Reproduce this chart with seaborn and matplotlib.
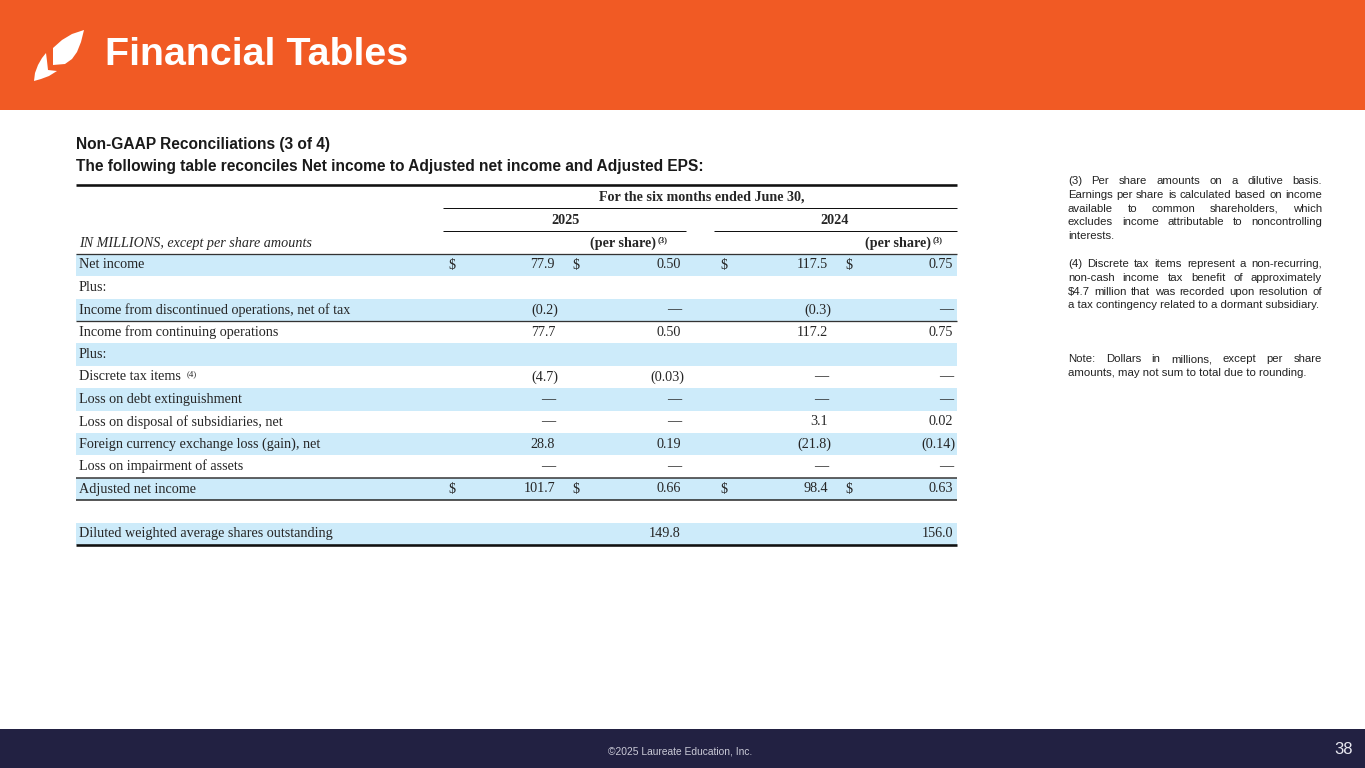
import numpy as np
import matplotlib
matplotlib.use("Agg")
import matplotlib.pyplot as plt
from matplotlib.patches import Polygon, Rectangle
import seaborn as sns

# ---------------- data ----------------
row_labels = [
    "Net income",
    "Plus:",
    "Income from discontinued operations, net of tax",
    "Income from continuing operations",
    "Plus:",
    "Discrete tax items",
    "Loss on debt extinguishment",
    "Loss on disposal of subsidiaries, net",
    "Foreign currency exchange loss (gain), net",
    "Loss on impairment of assets",
    "Adjusted net income",
    "",
    "Diluted weighted average shares outstanding",
]
nan = np.nan
# nan = blank cell, 0 = dash
amt_2025 = [77.9, nan, -0.2, 77.7, nan, -4.7, 0, 0, 28.8, 0, 101.7, nan, nan]
per_2025 = [0.50, nan, 0, 0.50, nan, -0.03, 0, 0, 0.19, 0, 0.66, nan, 149.8]
amt_2024 = [117.5, nan, -0.3, 117.2, nan, 0, 0, 3.1, -21.8, 0, 98.4, nan, nan]
per_2024 = [0.75, nan, 0, 0.75, nan, 0, 0, 0.02, -0.14, 0, 0.63, nan, 156.0]
per_share_decimals = [2, 2, 2, 2, 2, 2, 2, 2, 2, 2, 2, 2, 1]
dollar_rows = [0, 10]
footnote_rows = {5: "(4)"}
years = ["2025", "2024"]
period_header = "For the six months ended June 30,"
units_header = "IN MILLIONS, except per share amounts"
per_share_header = "(per share)"

title = "Financial Tables"
subtitle1 = "Non-GAAP Reconciliations (3 of 4)"
subtitle2 = "The following table reconciles Net income to Adjusted net income and Adjusted EPS:"
notes = [
    ["(3) Per share amounts on a dilutive basis.",
     "Earnings per share is calculated based on income",
     "available to common shareholders, which",
     "excludes income attributable to noncontrolling",
     "interests."],
    ["(4) Discrete tax items represent a non-recurring,",
     "non-cash income tax benefit of approximately",
     "$4.7 million that was recorded upon resolution of",
     "a tax contingency related to a dormant subsidiary."],
    ["Note:   Dollars in millions, except per share",
     "amounts, may not sum to total due to rounding."],
]
footer_text = "\u00a92025 Laureate Education, Inc."
page_number = "38"

# ---------------- style ----------------
sns.set_theme(style="white")
plt.rcParams["font.family"] = ["Liberation Sans", "DejaVu Sans"]

ORANGE = "#F15A24"
NAVY = "#222142"
STRIPE = "#CDEBFA"
SERIF = ["Liberation Serif", "DejaVu Serif"]
SANS = ["Liberation Sans", "DejaVu Sans"]

fig = plt.figure(figsize=(13.65, 7.68), dpi=100)
ax = fig.add_axes([0, 0, 1, 1])
ax.set_xlim(0, 1365)
ax.set_ylim(768, 0)
ax.axis("off")

def px(w):
    return w * 0.72

# header band
ax.add_patch(Rectangle((0, 0), 1365, 110, color=ORANGE, lw=0))
# logo
ax.add_patch(Polygon([(53, 48), (62, 40), (72, 34), (84, 30), (81, 42), (77, 52),
                      (72, 59), (65, 64), (53, 65)],
                     closed=True, color="white", lw=0))
ax.add_patch(Polygon([(34, 81), (35, 73), (38, 65), (42, 58), (46, 53), (47, 61),
                      (48, 70), (57, 71), (49, 76), (41, 79)],
                     closed=True, color="white", lw=0))
ax.text(105, 55, title, color="white", fontsize=28.4, fontweight="bold",
        family=SANS, va="center", ha="left")

# footer band
ax.add_patch(Rectangle((0, 729), 1365, 39, color=NAVY, lw=0))
ax.text(752, 751, footer_text, color="#C9C9D6", fontsize=7.4, family=SANS,
        ha="right", va="center")
ax.text(1353, 750, page_number, color="#E8E8F0", fontsize=12, family=SANS,
        ha="right", va="center")

# subtitles
ax.text(76, 145, subtitle1, fontsize=11.2, fontweight="bold", family=SANS,
        color="#1a1a1a", va="center")
ax.text(76, 166, subtitle2, fontsize=11.2, fontweight="bold", family=SANS,
        color="#1a1a1a", va="center")

# ---------------- table ----------------
X0, X1 = 76, 957
row_y0 = 265.0
row_h = 22.4
ys = [row_y0 + i * row_h for i in range(len(row_labels))]
FS = 10.2

for i, y in enumerate(ys):
    if i % 2 == 0:
        ax.add_patch(Rectangle((X0, y - row_h / 2), X1 - X0, row_h,
                               color=STRIPE, lw=0, zorder=0))

# header texts
ax.text(702, 197, period_header, fontsize=FS, fontweight="bold", family=SERIF,
        ha="center", va="center")
ax.text(566, 220, years[0], fontsize=FS, fontweight="bold", family=SERIF,
        ha="center", va="center")
ax.text(835, 220, years[1], fontsize=FS, fontweight="bold", family=SERIF,
        ha="center", va="center")
ax.text(79, 243, units_header, fontsize=FS, fontstyle="italic", family=SERIF,
        ha="left", va="center")
for xr in (656, 931):
    ax.text(xr, 243, per_share_header, fontsize=FS, fontweight="bold",
            family=SERIF, ha="right", va="center")
    ax.text(xr + 2, 240, "(3)", fontsize=6.3, fontweight="bold", family=SERIF,
            ha="left", va="center")

# rules
ax.plot([X0, X1], [185, 185], color="#111111", lw=px(2.6), solid_capstyle="butt")
ax.plot([443, X1], [208, 208], color="#111111", lw=px(1.0), solid_capstyle="butt")
ax.plot([443, 686], [231, 231], color="#111111", lw=px(1.0), solid_capstyle="butt")
ax.plot([714, X1], [231, 231], color="#111111", lw=px(1.0), solid_capstyle="butt")
ax.plot([X0, X1], [253.6, 253.6], color="#333333", lw=px(1.3), solid_capstyle="butt")
ax.plot([X0, X1], [ys[2] + row_h / 2, ys[2] + row_h / 2], color="#333333",
        lw=px(1.3), solid_capstyle="butt")
ax.plot([X0, X1], [ys[10] - row_h / 2, ys[10] - row_h / 2], color="#333333",
        lw=px(1.5), solid_capstyle="butt")
ax.plot([X0, X1], [ys[10] + row_h / 2, ys[10] + row_h / 2], color="#222222",
        lw=px(1.5), solid_capstyle="butt")
ax.plot([X0, X1], [ys[12] + row_h / 2, ys[12] + row_h / 2], color="#111111",
        lw=px(2.6), solid_capstyle="butt")

# row labels
for i, (lab, y) in enumerate(zip(row_labels, ys)):
    if lab:
        t = ax.text(79, y, lab, fontsize=FS, family=SERIF, ha="left", va="center")
        if i in footnote_rows:
            fig.canvas.draw()
            bb = t.get_window_extent(fig.canvas.get_renderer())
            ax.text(bb.x1 + 6, y - 3, footnote_rows[i], fontsize=6.3,
                    family=SERIF, ha="left", va="center")

def fmt(v, dec):
    if np.isnan(v):
        return None
    if v == 0:
        return "\u2014"
    s = f"{abs(v):,.{dec}f}"
    return f"({s})" if v < 0 else s

columns = [
    (amt_2025, [1] * len(ys), 448, 555),
    (per_2025, per_share_decimals, 572, 681),
    (amt_2024, [1] * len(ys), 720, 828),
    (per_2024, per_share_decimals, 845, 953),
]
for vals, decs, xd, xr in columns:
    for i, (v, d, y) in enumerate(zip(vals, decs, ys)):
        s = fmt(v, d)
        if s is None:
            continue
        xx = xr + (3 if v < 0 else 0)
        ax.text(xx, y, s, fontsize=FS, family=SERIF, ha="right", va="center")
        if i in dollar_rows:
            ax.text(xd, y, "$", fontsize=FS, family=SERIF, ha="left", va="center")

# ---------------- notes (justified) ----------------
fig.canvas.draw()
renderer = fig.canvas.get_renderer()
NX0, NX1 = 1068, 1322
NFS = 8.2
LS = 13.8

def width_of(s):
    t = ax.text(0, 0, s, fontsize=NFS, family=SANS)
    w = t.get_window_extent(renderer).width
    t.remove()
    return w

def justify(line, y, last):
    if last:
        ax.text(NX0, y, line, fontsize=NFS, family=SANS, color="#222222",
                ha="left", va="center")
        return
    words = line.split()
    ws = [width_of(w) for w in words]
    gap = (NX1 - NX0 - sum(ws)) / max(len(words) - 1, 1)
    x = NX0
    for w, wd in zip(words, ws):
        ax.text(x, y, w, fontsize=NFS, family=SANS, color="#222222",
                ha="left", va="center")
        x += wd + gap

note_starts = [181, 264, 359]
for para, y0 in zip(notes, note_starts):
    for j, line in enumerate(para):
        justify(line, y0 + j * LS, j == len(para) - 1)

fig.savefig("out.png", dpi=100)
